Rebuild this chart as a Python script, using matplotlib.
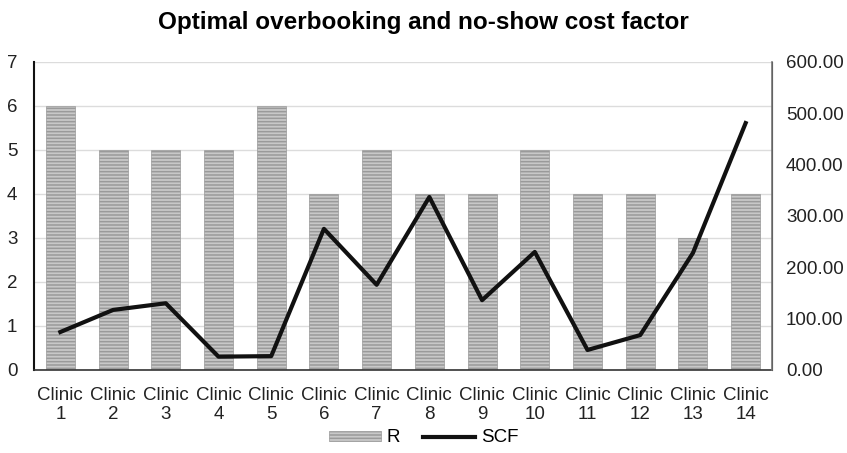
import numpy as np
import matplotlib
matplotlib.use("Agg")
import matplotlib.pyplot as plt

plt.rcParams['font.family'] = ['Liberation Sans', 'DejaVu Sans']
plt.rcParams['hatch.linewidth'] = 1.1
plt.rcParams['hatch.color'] = '#3e3e3e'

# ---------------- Data ----------------
clinics = [f"Clinic\n{i}" for i in range(1, 15)]
r_values = [6, 5, 5, 5, 6, 4, 5, 4, 4, 5, 4, 4, 3, 4]
scf_values = [74, 117, 130, 26, 27, 275, 166, 337, 136, 230, 39, 68, 228, 481]

# ---------------- Plot ----------------
fig = plt.figure(figsize=(8.47, 4.53), dpi=100)
ax = fig.add_axes([34 / 847, 1 - 370 / 453, (772 - 34) / 847, (370 - 62) / 453])
ax2 = ax.twinx()

x = np.arange(len(clinics))
bars = ax.bar(x, r_values, width=0.55, color='#c8c8c8', edgecolor='#9a9a9a',
              linewidth=0.5, hatch='-----', label='R', zorder=2)
line, = ax2.plot(x, scf_values, color='#111111', lw=3, label='SCF', zorder=3)

ax.set_xlim(-0.5, len(clinics) - 0.5)
ax.set_ylim(0, 7)
ax.set_yticks(range(0, 8))
ax2.set_ylim(0, 600)
ax2.set_yticks(range(0, 601, 100))
ax2.set_yticklabels([f"{v:.2f}" for v in range(0, 601, 100)])

ax.set_xticks(x)
ax.set_xticklabels(clinics, linespacing=1.2)

ax.grid(axis='y', color='#dcdcdc', lw=1, zorder=0)
ax.set_axisbelow(True)

for a in (ax, ax2):
    a.tick_params(length=0, labelsize=13.5, colors='#222222')
    a.spines['top'].set_visible(False)
ax.tick_params(axis='x', pad=12)
ax.tick_params(axis='y', pad=12)
ax2.tick_params(axis='y', pad=10)
ax.spines['left'].set_color('#111111')
ax.spines['left'].set_linewidth(1.5)
ax.spines['bottom'].set_color('#333333')
ax.spines['bottom'].set_linewidth(1.2)
ax2.spines['left'].set_visible(False)
ax2.spines['bottom'].set_visible(False)
ax2.spines['right'].set_color('#777777')
ax2.spines['right'].set_linewidth(1.2)

fig.suptitle("Optimal overbooking and no-show cost factor", fontsize=17.5,
             fontweight='bold', y=1 - 23 / 453, va='center')

fig.legend(handles=[bars, line], labels=['R', 'SCF'], loc='center',
           bbox_to_anchor=(0.5, 1 - 438 / 453), ncol=2, frameon=False,
           fontsize=13.5, handlelength=2.8, handleheight=0.5,
           handletextpad=0.3, columnspacing=1.2)

fig.savefig("out.png", dpi=100)
